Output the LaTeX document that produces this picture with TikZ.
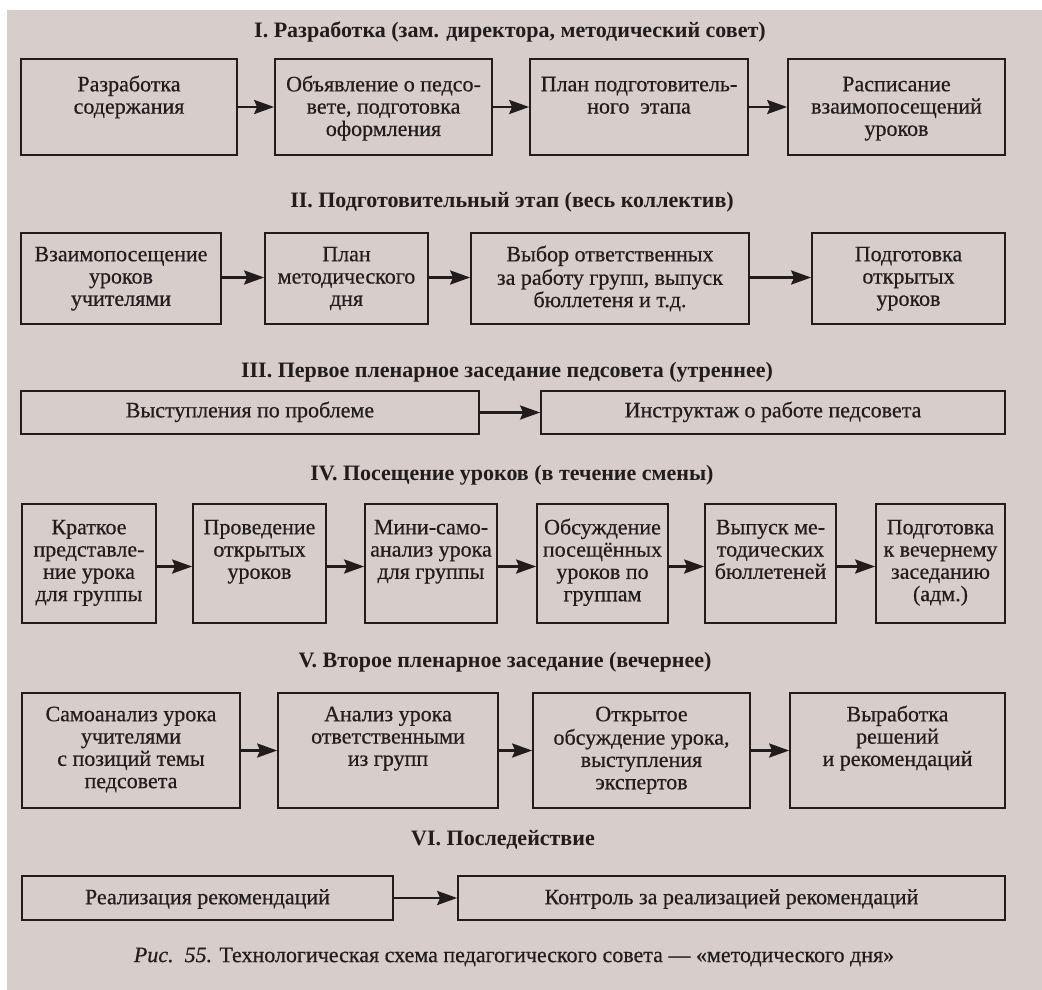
\documentclass[tikz,border=0pt]{standalone}
\usepackage{fontspec}
\setmainfont{Liberation Serif}
\newfontfamily\inkfont[FakeBold=0.5]{Liberation Serif}
\usetikzlibrary{arrows.meta}
\definecolor{paper}{RGB}{215,205,203}
\definecolor{ink}{RGB}{34,28,28}
% a framed box given by its corners, with its text hung from the top:
% name, x1, y1, x2, y2, middle of the first text line, text
\newcommand\flowbox[7]{%
  \node[bx, minimum width={(#4)-(#2)}, minimum height={(#5)-(#3)}]
    (#1) at ({((#2)+(#4))/2},{((#3)+(#5))/2}) {};
  \node[bxtext] (#1-t) at ({((#2)+(#4))/2},{(#6)-9.6}) {\strut#7};}
\begin{document}
\begin{tikzpicture}[x=1pt,y=-1pt,
  bx/.style={draw=ink, line width=1.7pt, inner sep=0pt},
  bxtext/.style={anchor=north, align=center, inner sep=0pt, text=ink,
    font=\fontsize{22}{22.3}\selectfont\inkfont},
  ttl/.style={text=ink, font=\fontsize{22}{24}\selectfont\bfseries},
  captext/.style={text=ink, font=\fontsize{22}{24}\selectfont\inkfont},
  flow/.style={draw=ink, line width=2.7pt,
    -{Stealth[length=20pt,width=14pt,inset=3pt]}}
]
\useasboundingbox (0,0) rectangle (1042,990);
\fill[white] (0,0) rectangle (1042,990);
\fill[paper] (7,10) rectangle (1042,990);

% I. development
\node[ttl] (t1) at (510,32) {I. Разработка (зам. директора, методический совет)};
\flowbox{a1}{21}{59}{237}{155}{85}{Разработка\\содержания}
\flowbox{a2}{275}{59}{492}{155}{85}{Объявление о педсо-\\вете, подготовка\\оформления}
\flowbox{a3}{530}{59}{748}{155}{85}{План подготовитель-\\ного \ этапа}
\flowbox{a4}{788}{59}{1005}{155}{85}{Расписание\\взаимопосещений\\уроков}
\draw[flow] (a1) -- (a2);
\draw[flow] (a2) -- (a3);
\draw[flow] (a3) -- (a4);

% II. preparation
\node[ttl] (t2) at (512,202) {II. Подготовительный этап (весь коллектив)};
\flowbox{b1}{21}{233}{221}{324}{255}{Взаимопосещение\\уроков\\учителями}
\flowbox{b2}{265}{233}{428}{324}{255}{План\\методического\\дня}
\flowbox{b3}{471}{233}{749}{324}{255}{Выбор ответственных\\за работу групп, выпуск\\бюллетеня и т.д.}
\flowbox{b4}{812}{233}{1005}{324}{255}{Подготовка\\открытых\\уроков}
\draw[flow] ([yshift=1pt]b1.east) -- ([yshift=1pt]b2.west);
\draw[flow] ([yshift=1pt]b2.east) -- ([yshift=1pt]b3.west);
\draw[flow] ([yshift=1pt]b3.east) -- ([yshift=1pt]b4.west);

% III. first plenary session
\node[ttl] (t3) at (507,372) {III. Первое пленарное заседание педсовета (утреннее)};
\flowbox{c1}{21}{391}{479}{434}{411}{Выступления по проблеме}
\flowbox{c2}{541}{391}{1005}{434}{411}{Инструктаж о работе педсовета}
\draw[flow] (c1) -- (c2);

% IV. lessons
\node[ttl] (t4) at (512,475) {IV. Посещение уроков (в течение смены)};
\flowbox{d1}{22}{504}{156}{623}{528}{Краткое\\представле-\\ние урока\\для группы}
\flowbox{d2}{193}{504}{326}{623}{528}{Проведение\\открытых\\уроков}
\flowbox{d3}{365}{504}{497}{623}{528}{Мини-само-\\анализ урока\\для группы}
\flowbox{d4}{537}{504}{668}{623}{528}{Обсуждение\\посещённых\\уроков по\\группам}
\flowbox{d5}{705}{504}{836}{623}{528}{Выпуск ме-\\тодических\\бюллетеней}
\flowbox{d6}{876}{504}{1005}{623}{528}{Подготовка\\к вечернему\\заседанию\\(адм.)}
\draw[flow] ([yshift=-3pt]d1.east) -- ([yshift=-3pt]d2.west);
\draw[flow] ([yshift=-3pt]d2.east) -- ([yshift=-3pt]d3.west);
\draw[flow] ([yshift=-3pt]d3.east) -- ([yshift=-3pt]d4.west);
\draw[flow] ([yshift=-3pt]d4.east) -- ([yshift=-3pt]d5.west);
\draw[flow] ([yshift=-3pt]d5.east) -- ([yshift=-3pt]d6.west);

% V. second plenary session
\node[ttl] (t5) at (505,662) {V. Второе пленарное заседание (вечернее)};
\flowbox{e1}{22}{693}{240}{808}{715}{Самоанализ урока\\учителями\\с позиций темы\\педсовета}
\flowbox{e2}{278}{693}{498}{808}{715}{Анализ урока\\ответственными\\из групп}
\flowbox{e3}{533}{693}{750}{808}{715}{Открытое\\обсуждение урока,\\выступления\\экспертов}
\flowbox{e4}{790}{693}{1005}{808}{715}{Выработка\\решений\\и рекомендаций}
\draw[flow] (e1) -- (e2);
\draw[flow] (e2) -- (e3);
\draw[flow] (e3) -- (e4);

% VI. follow-up
\node[ttl] (t6) at (503,840) {VI. Последействие};
\flowbox{f1}{22}{876}{393}{920}{898}{Реализация рекомендаций}
\flowbox{f2}{458}{876}{1005}{920}{898}{Контроль за реализацией рекомендаций}
\draw[flow] (f1) -- (f2);

% caption
\node[captext] (capline) at (514,957) {{\itshape Рис.\ \ 55.} Технологическая схема педагогического совета — «методического дня»};
\end{tikzpicture}
\end{document}
